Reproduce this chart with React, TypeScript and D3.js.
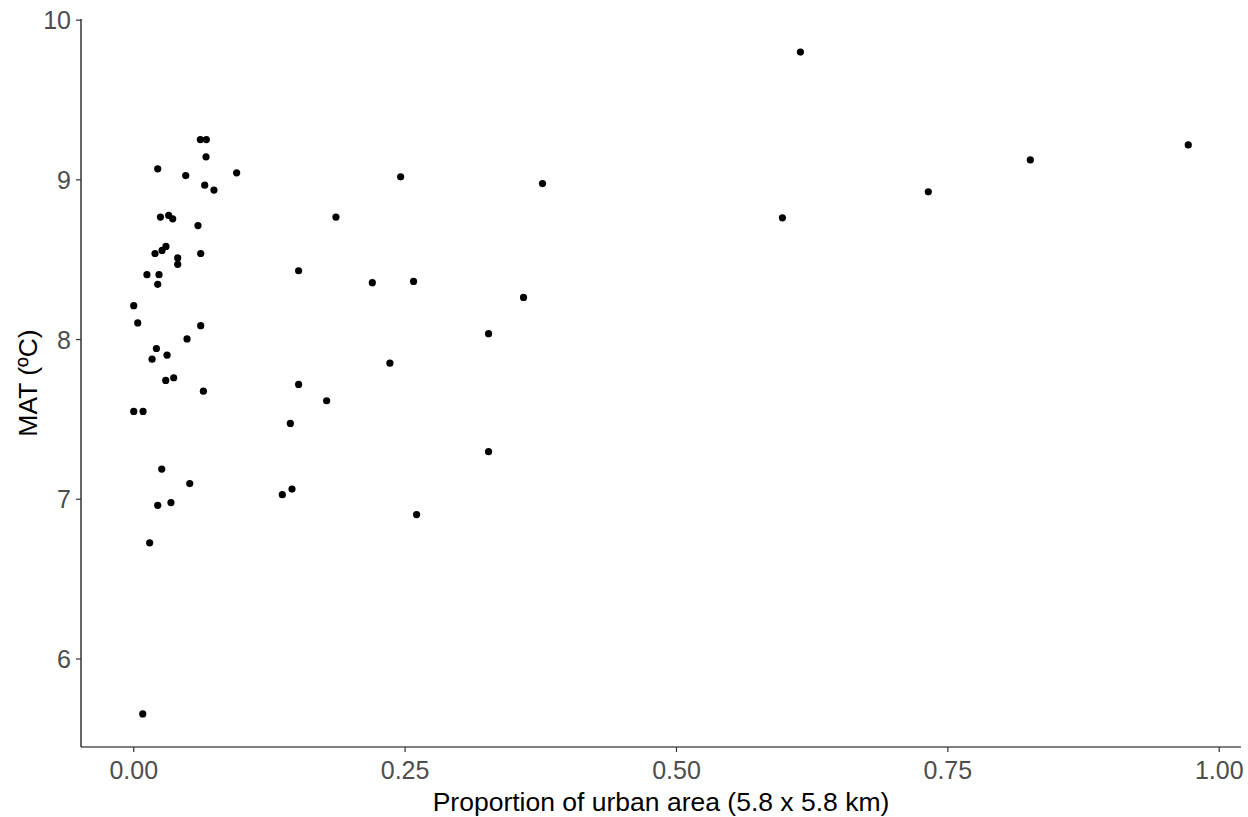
import React from "react"
import * as d3 from "d3"

// proportion of urban area (x) and MAT (y)
const urbanProp = [
  0.0614, 0.0669, 0.0666, 0.0221, 0.0479, 0.0948, 0.0654, 0.0739, 0.0246, 0.0322,
  0.0359, 0.0592, 0.0196, 0.0261, 0.0297, 0.0617, 0.0405, 0.0405, 0.0122, 0.0233,
  0.0221, 0.0, 0.0037, 0.0617, 0.0491, 0.0209, 0.0169, 0.0307, 0.0295, 0.0368,
  0.0642, 0.0, 0.0086, 0.0258, 0.0516, 0.0221, 0.0343, 0.0147, 0.0083,
  0.2459, 0.3766, 0.1863, 0.1519, 0.2198, 0.2578, 0.3591, 0.3269, 0.236, 0.1519,
  0.1777, 0.1443, 0.3269, 0.1458, 0.1369, 0.2606,
  0.6142, 0.9715, 0.826, 0.732, 0.5976,
]
const mat = [
  9.252, 9.252, 9.144, 9.069, 9.027, 9.044, 8.967, 8.936, 8.767, 8.777,
  8.756, 8.714, 8.539, 8.558, 8.583, 8.539, 8.511, 8.471, 8.406, 8.406,
  8.346, 8.212, 8.104, 8.087, 8.004, 7.944, 7.877, 7.902, 7.744, 7.761,
  7.677, 7.55, 7.55, 7.189, 7.098, 6.962, 6.979, 6.727, 5.656,
  9.019, 8.977, 8.767, 8.431, 8.356, 8.364, 8.264, 8.037, 7.852, 7.719,
  7.617, 7.475, 7.298, 7.064, 7.029, 6.904,
  9.8, 9.219, 9.125, 8.925, 8.762,
]
const xTicks = [0, 0.25, 0.5, 0.75, 1]
const yTicks = [6, 7, 8, 9, 10]

const width = 1248
const height = 817
const margin = { top: 19, right: 7, bottom: 70, left: 81 }

// ggplot-like 5% expansion
const expand = (ext: [number, number]) => {
  const pad = (ext[1] - ext[0]) * 0.05
  return [ext[0] - pad, ext[1] + pad]
}

export default function App() {
  const x = d3
    .scaleLinear()
    .domain(expand(d3.extent(urbanProp) as [number, number]))
    .range([margin.left, width - margin.right])
  const y = d3
    .scaleLinear()
    .domain(expand(d3.extent(mat) as [number, number]))
    .range([height - margin.bottom, margin.top])

  const x0 = margin.left
  const y0 = height - margin.bottom
  const fmtX = d3.format(".2f")
  const font = "'Liberation Sans', Arial, sans-serif"

  return (
    <svg
      width={width}
      height={height}
      style={{ position: "absolute", left: 0, top: 0, background: "#fff" }}
      fontFamily={font}
    >
      {/* axis lines */}
      <line x1={x0} x2={width - margin.right} y1={y0} y2={y0} stroke="#000" strokeWidth={1.2} />
      <line x1={x0} x2={x0} y1={margin.top} y2={y0} stroke="#000" strokeWidth={1.2} />

      {xTicks.map(t => (
        <g key={"x" + t} transform={`translate(${x(t)},${y0})`}>
          <line y2={5} stroke="#333" strokeWidth={1.2} />
          <text y={32} textAnchor="middle" fontSize={25} fill="#4d4d4d">
            {fmtX(t)}
          </text>
        </g>
      ))}
      {yTicks.map(t => (
        <g key={"y" + t} transform={`translate(${x0},${y(t)})`}>
          <line x2={-5} stroke="#333" strokeWidth={1.2} />
          <text x={-10} dy="0.36em" textAnchor="end" fontSize={25} fill="#4d4d4d">
            {t}
          </text>
        </g>
      ))}

      {urbanProp.map((v, i) => (
        <circle key={i} cx={x(v)} cy={y(mat[i])} r={3.6} fill="#000" />
      ))}

      <text x={(x0 + width - margin.right) / 2} y={811} textAnchor="middle" fontSize={26.5} fill="#000">
        Proportion of urban area (5.8 x 5.8 km)
      </text>
      <text
        transform={`translate(37,${(margin.top + y0) / 2}) rotate(-90)`}
        textAnchor="middle"
        fontSize={26.5}
        fill="#000"
      >
        MAT (ºC)
      </text>
    </svg>
  )
}
